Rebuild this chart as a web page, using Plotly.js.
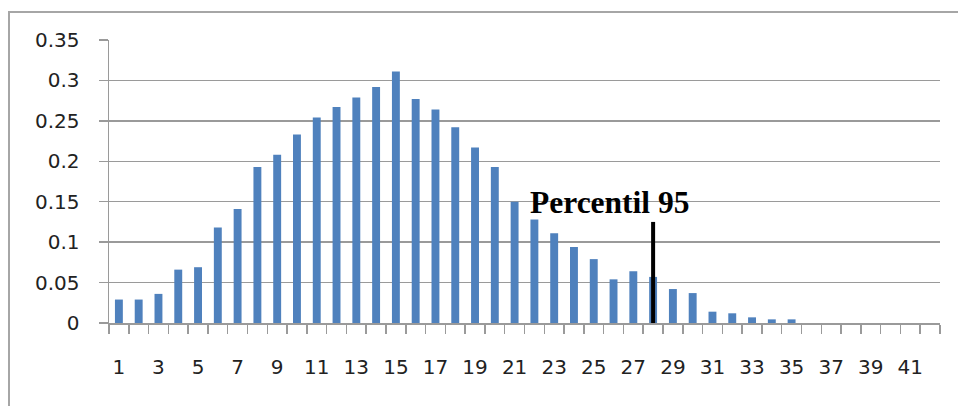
<!DOCTYPE html>
<html>
<head>
<meta charset="utf-8">
<script src="https://cdn.plot.ly/plotly-3.0.1.min.js"></script>
<style>
  html, body { margin: 0; padding: 0; background: #fff; }
  #wrap { position: relative; width: 958px; height: 406px; overflow: hidden; }
  #frame { position: absolute; left: 8px; top: 11px; width: 980px; height: 420px;
           border-left: 2px solid #a6a6a6; border-top: 2px solid #a6a6a6; }
  #chart { position: absolute; left: 0; top: 0; width: 958px; height: 406px; }
</style>
</head>
<body>
<div id="wrap">
  <div id="frame"></div>
  <div id="chart"></div>
</div>
<script>
// Category numbers along the horizontal axis
const categories = [1,2,3,4,5,6,7,8,9,10,11,12,13,14,15,16,17,18,19,20,21,
                    22,23,24,25,26,27,28,29,30,31,32,33,34,35,36,37,38,39,40,41,42];

// Relative frequency for each category
const frequencies = [0.029,0.029,0.036,0.066,0.069,0.118,0.141,0.193,0.208,0.233,
                     0.254,0.267,0.279,0.292,0.311,0.277,0.264,0.242,0.217,0.193,
                     0.150,0.128,0.111,0.094,0.079,0.054,0.064,0.057,0.042,0.037,
                     0.014,0.012,0.007,0.0045,0.0045,0,0,0,0,0,0,0];

// Axis tick labels
const xTickValues = [1,3,5,7,9,11,13,15,17,19,21,23,25,27,29,31,33,35,37,39,41];
const yTickValues = [0,0.05,0.1,0.15,0.2,0.25,0.3,0.35];
const yTickLabels = ['0','0.05','0.1','0.15','0.2','0.25','0.3','0.35'];

// 95th percentile marker
const percentileLabel = 'Percentil 95';
const percentileX = 28;
const percentileTop = 0.125;

const tickFont = { family: 'DejaVu Sans, Verdana, sans-serif', size: 20, color: '#222' };
const gridColor = '#9a9a9a';

const trace = {
  type: 'bar',
  x: categories,
  y: frequencies,
  marker: { color: '#4f81bd', line: { width: 0 } },
  hoverinfo: 'x+y'
};

const layout = {
  width: 958,
  height: 406,
  margin: { l: 109, r: 18, t: 40, b: 83 },
  paper_bgcolor: 'rgba(0,0,0,0)',
  plot_bgcolor: 'rgba(0,0,0,0)',
  showlegend: false,
  bargap: 0.6,
  xaxis: {
    range: [0.5, 42.5],
    tickmode: 'array',
    tickvals: xTickValues,
    ticks: '',
    tickfont: tickFont,
    ticklabelstandoff: 25,
    showgrid: false,
    zeroline: false,
    showline: true,
    linecolor: gridColor,
    linewidth: 1.5,
    minor: { ticks: 'outside', tick0: 0.5, dtick: 1, ticklen: 9, tickwidth: 1.5,
             tickcolor: gridColor, showgrid: false }
  },
  yaxis: {
    range: [0, 0.35],
    tickmode: 'array',
    tickvals: yTickValues,
    ticktext: yTickLabels,
    ticks: 'outside',
    ticklen: 9,
    tickwidth: 1.5,
    tickcolor: gridColor,
    tickfont: tickFont,
    ticklabelstandoff: 15,
    showgrid: true,
    gridcolor: gridColor,
    gridwidth: 1.5,
    zeroline: false,
    showline: true,
    linecolor: gridColor,
    linewidth: 1.5
  },
  shapes: [{
    type: 'line',
    xref: 'x', yref: 'y',
    x0: percentileX, x1: percentileX,
    y0: 0, y1: percentileTop,
    line: { color: '#000', width: 4 }
  }],
  annotations: [{
    xref: 'x', yref: 'y',
    x: 25.8, y: 0.149,
    xanchor: 'center', yanchor: 'middle',
    text: '<b>' + percentileLabel + '</b>',
    showarrow: false,
    font: { family: 'Liberation Serif, Times New Roman, serif', size: 31.5, color: '#000' }
  }]
};

Plotly.newPlot('chart', [trace], layout, { displayModeBar: false, staticPlot: true });
</script>
</body>
</html>
